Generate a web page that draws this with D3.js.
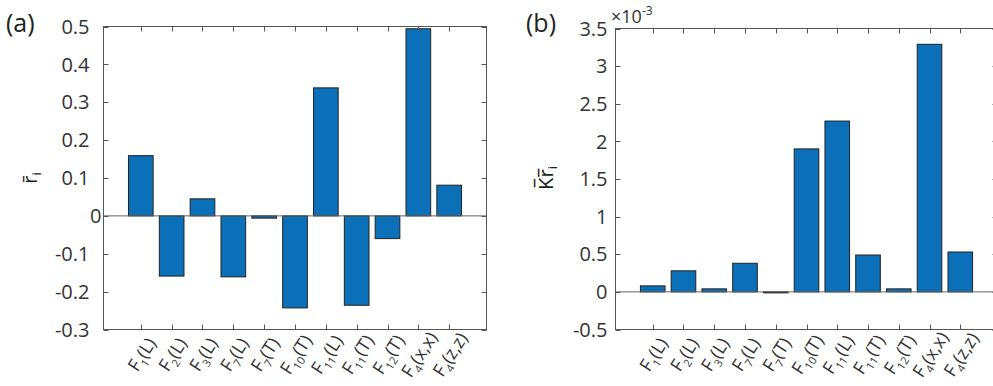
<!DOCTYPE html>
<html>
<head>
<meta charset="utf-8">
<script src="https://cdn.jsdelivr.net/npm/d3@7"></script>
<style>
  html, body { margin: 0; padding: 0; background: #fff; }
  svg { display: block; font-family: "Open Sans", "Noto Sans", sans-serif; }
</style>
</head>
<body>
<svg id="fig" width="993" height="386"></svg>
<script>
// Force components: base letter, subscript index, argument in parentheses
const catBase = ["F", "F", "F", "F", "F", "F", "F", "F", "F", "F", "F"];
const catSub  = ["1", "2", "3", "7", "7", "10", "11", "11", "12", "4", "4"];
const catArg  = ["(L)", "(L)", "(L)", "(L)", "(T)", "(T)", "(L)", "(T)", "(T)", "(x,x)", "(z,z)"];

// (a) normalised response r̄_i
const rValues = [0.159, -0.159, 0.045, -0.161, -0.006, -0.243, 0.338, -0.236, -0.060, 0.494, 0.081];
// (b) weighted response K̄r̄_i
const krValues = [0.08e-3, 0.28e-3, 0.04e-3, 0.38e-3, -0.01e-3, 1.90e-3, 2.27e-3, 0.49e-3, 0.04e-3, 3.29e-3, 0.53e-3];

const rTicks  = [-0.3, -0.2, -0.1, 0, 0.1, 0.2, 0.3, 0.4, 0.5];
const krTicks = [-0.5e-3, 0, 0.5e-3, 1e-3, 1.5e-3, 2e-3, 2.5e-3, 3e-3, 3.5e-3];

const svg = d3.select("#fig");
const axisColor = "#555";
const textColor = "#333";
const barFill = "#0b70b8";
const barStroke = "#222";
const tickLen = 5;

function drawPanel(opt) {
  const { left, right, top, bottom, values, domain, ticks, fmt, labelGap } = opt;
  const g = svg.append("g");
  const idx = values.map((_, i) => i);

  const x = d3.scalePoint().domain(idx).range([left, right]).padding(1.21);
  const step = x.step();
  const barW = step * 0.8;
  const y = d3.scaleLinear().domain(domain).range([bottom, top]);

  // bars
  g.selectAll("rect.bar").data(values).enter().append("rect")
    .attr("class", "bar")
    .attr("x", (d, i) => x(i) - barW / 2)
    .attr("y", d => y(Math.max(0, d)))
    .attr("width", barW)
    .attr("height", d => Math.max(1, Math.abs(y(d) - y(0))))
    .attr("fill", barFill)
    .attr("stroke", barStroke)
    .attr("stroke-width", 1);

  // baseline at zero
  g.append("line")
    .attr("x1", left).attr("x2", right)
    .attr("y1", y(0)).attr("y2", y(0))
    .attr("stroke", "#666").attr("stroke-width", 1);

  // box
  g.append("rect")
    .attr("x", left).attr("y", top)
    .attr("width", right - left).attr("height", bottom - top)
    .attr("fill", "none").attr("stroke", axisColor).attr("stroke-width", 1);

  // inward ticks on all four sides
  ticks.forEach(t => {
    const yy = Math.round(y(t)) + 0.5;
    g.append("line").attr("x1", left).attr("x2", left + tickLen).attr("y1", yy).attr("y2", yy).attr("stroke", axisColor);
    g.append("line").attr("x1", right - tickLen).attr("x2", right).attr("y1", yy).attr("y2", yy).attr("stroke", axisColor);
  });
  idx.forEach(i => {
    const xx = Math.round(x(i)) + 0.5;
    g.append("line").attr("x1", xx).attr("x2", xx).attr("y1", bottom).attr("y2", bottom - tickLen).attr("stroke", axisColor);
    g.append("line").attr("x1", xx).attr("x2", xx).attr("y1", top).attr("y2", top + tickLen).attr("stroke", axisColor);
  });

  // y tick labels
  g.selectAll("text.ytick").data(ticks).enter().append("text")
    .attr("class", "ytick")
    .attr("x", d => left - (opt.zeroGap !== undefined && d === 0 ? opt.zeroGap : labelGap))
    .attr("y", d => y(d))
    .attr("dy", "0.36em")
    .attr("text-anchor", "end")
    .attr("font-size", 20)
    .attr("fill", textColor)
    .text(fmt);

  // rotated category labels, centred on a point below each tick
  const xl = g.selectAll("text.xtick").data(idx).enter().append("text")
    .attr("class", "xtick")
    .attr("transform", i => `translate(${x(i) + 1},${bottom + 25}) rotate(-57)`)
    .attr("text-anchor", "middle")
    .attr("dy", "0.35em")
    .attr("font-size", 18)
    .attr("fill", textColor);
  xl.append("tspan").text(i => catBase[i]);
  xl.append("tspan").attr("font-size", 11).attr("dy", 5).text(i => catSub[i]);
  xl.append("tspan").attr("dy", -5).text(i => catArg[i]);

  return { x, y, g };
}

// panel (a)
drawPanel({
  left: 103.5, right: 486.5, top: 26.5, bottom: 329.5,
  values: rValues, domain: [-0.3, 0.5], ticks: rTicks,
  fmt: d => d === 0 ? "0" : String(+d.toFixed(1)),
  labelGap: 14, zeroGap: 2
});

// panel (b)
drawPanel({
  left: 615.5, right: 997.5, top: 28.5, bottom: 329.5,
  values: krValues, domain: [-0.5e-3, 3.5e-3], ticks: krTicks,
  fmt: d => String(+(d * 1e3).toFixed(1)),
  labelGap: 8
});

// panel tags
svg.append("text").attr("x", 6).attr("y", 32).attr("font-size", 25).attr("fill", "#222").text("(a)");
svg.append("text").attr("x", 526).attr("y", 32).attr("font-size", 25).attr("fill", "#222").text("(b)");

// exponent marker for panel (b)
const ex = svg.append("text").attr("x", 611).attr("y", 23).attr("font-size", 18).attr("fill", textColor);
ex.append("tspan").text("×10");
ex.append("tspan").attr("font-size", 12).attr("dy", -8).text("-3");

// y-axis titles
const yl1 = svg.append("text")
  .attr("transform", "translate(37,178) rotate(-90)")
  .attr("text-anchor", "middle").attr("font-size", 20).attr("fill", "#222");
yl1.append("tspan").text("r\u0304");
yl1.append("tspan").attr("font-size", 13).attr("dy", 4).text("i");

const yl2 = svg.append("text")
  .attr("transform", "translate(553,178) rotate(-90)")
  .attr("text-anchor", "middle").attr("font-size", 20).attr("fill", "#222");
yl2.append("tspan").text("K\u0305r\u0305");
yl2.append("tspan").attr("font-size", 13).attr("dy", 4).text("i");
</script>
</body>
</html>
